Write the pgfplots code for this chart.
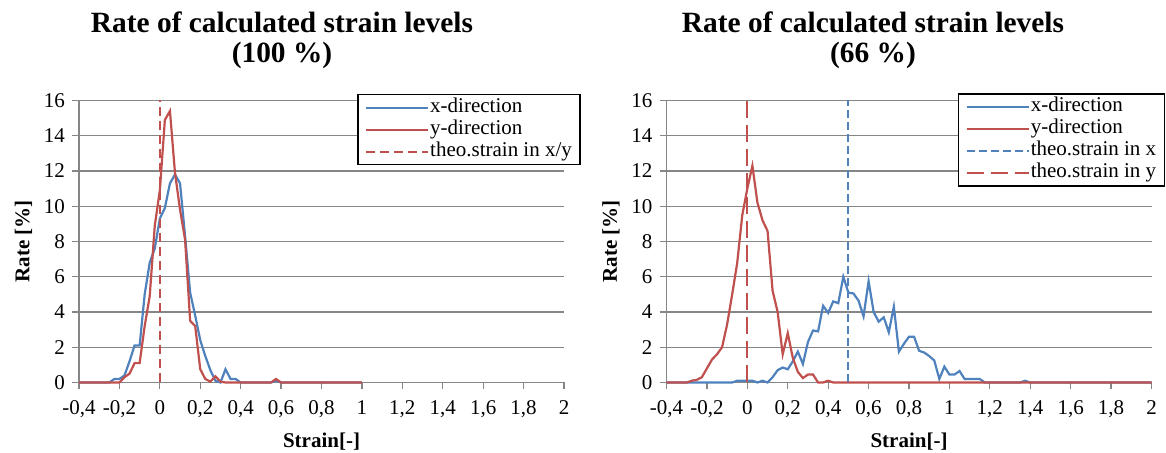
\documentclass[border=0pt]{standalone}
\usepackage{fontspec}
\setmainfont{Liberation Serif}
\usepackage{pgfplots}
\pgfplotsset{compat=1.18}

\definecolor{xblue}{HTML}{4F81BD}
\definecolor{yred}{HTML}{C0504D}
\definecolor{gridgray}{HTML}{868686}

\pgfplotsset{
  straincharts/.style={
    scale only axis,
    width=242.5pt, height=141pt,
    xmin=-0.4, xmax=2, ymin=0, ymax=16,
    xtick={-0.4,-0.2,0,0.2,0.4,0.6,0.8,1,1.2,1.4,1.6,1.8,2},
    xticklabels={{-0,4},{-0,2},0,{0,2},{0,4},{0,6},{0,8},1,{1,2},{1,4},{1,6},{1,8},2},
    ytick={0,2,...,16},
    axis x line*=bottom, axis y line*=left,
    axis line style={gridgray, line width=0.6pt, -},
    tick style={gridgray, line width=0.6pt},
    tick align=outside, major tick length=3.5pt,
    ymajorgrids, major grid style={gridgray, line width=0.6pt},
    tick label style={font=\fontsize{10.5}{12}\selectfont},
    xticklabel style={yshift=-2pt},
    /pgf/number format/assume math mode=true,
    xlabel={\textbf{Strain[-]}}, ylabel={\textbf{Rate [\%]}},
    label style={font=\fontsize{10.5}{12}\selectfont},
    xlabel style={yshift=-0.5pt},
    ylabel style={yshift=-1pt},
    clip=false,
    legend cell align=left,
    legend image code/.code={\draw[#1] (0pt,0pt) -- (27pt,0pt); \path (0pt,0pt) -- (31pt,0pt);},
    legend style={font=\fontsize{10.5}{12}\selectfont, draw=black, line width=0.6pt,
      inner xsep=3.5pt, inner ysep=1pt, row sep=0pt,
      nodes={inner sep=0.5pt, text height=7.5pt, text depth=2.5pt},
      anchor=north west},
    every axis plot/.append style={line width=1.1pt},
  }
}

\begin{document}
\begin{tikzpicture}
\useasboundingbox (0,0) rectangle (583pt,226.5pt);

\node[anchor=base, font=\fontsize{14.7}{15}\selectfont\bfseries] at (141pt,210pt) {Rate of calculated strain levels};
\node[anchor=base, font=\fontsize{14.7}{15}\selectfont\bfseries] at (141pt,195pt) {(100 \%)};
\node[anchor=base, font=\fontsize{14.7}{15}\selectfont\bfseries] at (436.5pt,210pt) {Rate of calculated strain levels};
\node[anchor=base, font=\fontsize{14.7}{15}\selectfont\bfseries] at (436.5pt,195pt) {(66 \%)};

% left: 100 %
\begin{axis}[straincharts, at={(39.5pt,35.25pt)}, anchor=south west,
  legend style={at={(0.574,1.023)}}]
\addplot[xblue] coordinates {
  (-0.4,0) (-0.25,0) (-0.225,0.2) (-0.2,0.2) (-0.175,0.4) (-0.15,1.2)
  (-0.125,2.1) (-0.1,2.1) (-0.075,5.0) (-0.05,6.8) (-0.025,7.6) (0,9.3)
  (0.025,9.9) (0.05,11.3) (0.075,11.8) (0.1,11.3) (0.125,8.3) (0.15,5.1)
  (0.175,3.8) (0.2,2.4) (0.225,1.5) (0.25,0.7) (0.275,0.1) (0.3,0)
  (0.325,0.75) (0.35,0.2) (0.375,0.2) (0.4,0) (0.55,0) (0.575,0.1) (0.6,0) (1,0)};
\addlegendentry{x-direction}
\addplot[yred] coordinates {
  (-0.4,0) (-0.2,0) (-0.175,0.3) (-0.15,0.5) (-0.125,1.1) (-0.1,1.1)
  (-0.075,3.2) (-0.05,4.9) (-0.025,8.9) (0,10.9) (0.025,14.9) (0.05,15.4)
  (0.075,11.9) (0.1,9.8) (0.125,8.1) (0.15,3.5) (0.175,3.2) (0.2,0.75)
  (0.225,0.2) (0.25,0.05) (0.275,0.35) (0.3,0.05) (0.325,0) (0.55,0)
  (0.575,0.2) (0.6,0) (1,0)};
\addlegendentry{y-direction}
\addplot[yred, dash pattern=on 4.5pt off 2.5pt] coordinates {(0,0) (0,16)};
\addlegendentry{theo.strain in x/y}
\end{axis}

% right: 66 %
\begin{axis}[straincharts, at={(333.25pt,35.25pt)}, anchor=south west,
  legend style={at={(0.601,1.0255)}}]
\addplot[xblue] coordinates {
  (-0.4,0) (-0.075,0) (-0.05,0.1) (-0.025,0.1) (0,0.1) (0.025,0.1) (0.05,0)
  (0.075,0.1) (0.1,0) (0.125,0.3) (0.15,0.7) (0.175,0.85) (0.2,0.75)
  (0.225,1.2) (0.25,1.75) (0.275,1.05) (0.3,2.3) (0.325,2.95) (0.35,2.9)
  (0.375,4.35) (0.4,3.95) (0.425,4.6) (0.45,4.5) (0.475,6.0) (0.5,5.1)
  (0.525,5.05) (0.55,4.65) (0.575,3.75) (0.6,5.75) (0.625,4.0) (0.65,3.45)
  (0.675,3.7) (0.7,2.85) (0.725,4.3) (0.75,1.75) (0.775,2.2) (0.8,2.6)
  (0.825,2.6) (0.85,1.8) (0.875,1.7) (0.9,1.5) (0.925,1.25) (0.95,0.2)
  (0.975,0.9) (1.0,0.45) (1.025,0.45) (1.05,0.65) (1.075,0.2) (1.1,0.2)
  (1.125,0.2) (1.15,0.2) (1.175,0) (1.35,0) (1.375,0.1) (1.4,0) (2,0)};
\addlegendentry{x-direction}
\addplot[yred] coordinates {
  (-0.4,0) (-0.3,0) (-0.275,0.1) (-0.25,0.15) (-0.225,0.3) (-0.2,0.8)
  (-0.175,1.3) (-0.15,1.6) (-0.125,2.0) (-0.1,3.3) (-0.075,5.0) (-0.05,6.8)
  (-0.025,9.5) (0,11.0) (0.025,12.3) (0.05,10.2) (0.075,9.2) (0.1,8.6)
  (0.125,5.2) (0.15,4.0) (0.175,1.6) (0.2,2.8) (0.225,1.4) (0.25,0.6)
  (0.275,0.25) (0.3,0.45) (0.325,0.45) (0.35,0) (0.375,0) (0.4,0.1)
  (0.425,0) (2,0)};
\addlegendentry{y-direction}
\addplot[xblue, dash pattern=on 4pt off 2pt] coordinates {(0.5,0) (0.5,16)};
\addlegendentry{theo.strain in x}
\addplot[yred, dash pattern=on 8.5pt off 3.5pt] coordinates {(0,0) (0,16)};
\addlegendentry{theo.strain in y}
\end{axis}
\end{tikzpicture}
\end{document}
